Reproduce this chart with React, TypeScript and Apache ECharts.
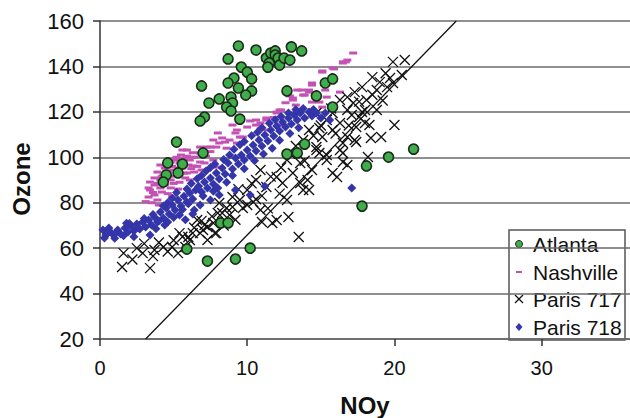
import React, { useEffect, useRef } from "react";
import * as echarts from "echarts";

const xTicks = [0, 10, 20, 30];

const atlanta: number[][] = [
  [9.4, 149.0], [10.6, 147.2], [8.7, 143.3], [9.6, 139.7], [10.0, 137.5], [9.1, 134.9], [8.7, 132.7],
  [10.3, 134.5], [9.4, 130.5], [10.3, 129.2], [9.9, 127.4], [6.9, 131.4], [8.1, 125.7], [7.4, 123.9],
  [8.9, 126.5], [9.0, 123.9], [8.6, 122.1], [8.9, 120.4], [7.1, 117.7], [6.8, 116.0], [9.5, 116.8],
  [5.2, 106.7], [7.0, 101.9], [4.6, 97.5], [5.6, 97.0], [4.5, 92.2], [4.3, 89.1], [5.3, 93.1],
  [11.3, 143.7], [11.6, 145.9], [11.9, 146.8], [11.9, 145.0], [11.5, 141.5], [11.4, 139.7], [12.1, 143.7],
  [12.2, 140.6], [12.5, 143.7], [12.9, 142.8], [13.0, 148.6], [13.7, 146.8], [12.7, 129.2], [14.7, 127.0],
  [15.3, 132.7], [15.8, 134.5], [15.8, 122.1], [13.9, 105.8], [12.7, 101.4], [13.4, 101.9], [21.3, 103.6],
  [19.6, 100.1], [18.1, 96.2], [17.8, 78.5], [8.2, 71.1], [8.7, 71.1], [10.2, 60.0], [7.3, 54.3],
  [9.2, 55.2], [5.9, 59.6],
];

const nashville: number[][] = [
  [17.2, 145.9], [16.7, 142.0], [16.5, 142.0], [16.8, 142.8], [16.5, 141.5], [15.9, 138.9], [15.8, 139.3],
  [15.1, 138.0], [15.1, 137.5], [14.4, 131.8], [14.4, 132.7], [14.2, 129.6], [13.7, 129.6], [13.4, 129.6],
  [15.3, 129.6], [13.1, 126.1], [14.2, 128.7], [13.9, 127.4], [13.8, 127.4], [12.9, 127.0], [14.7, 126.1],
  [14.4, 124.3], [14.9, 124.3], [15.4, 126.5], [16.3, 128.7], [15.1, 122.1], [13.1, 125.2], [12.3, 120.8],
  [12.2, 120.8], [12.0, 119.5], [11.3, 117.3], [10.9, 115.1], [10.6, 116.4], [11.3, 116.4], [12.2, 114.2],
  [12.0, 119.9], [11.4, 112.0], [10.6, 114.2], [10.0, 113.3], [9.5, 108.9], [9.7, 108.9], [9.0, 114.2],
  [9.2, 110.7], [9.3, 106.3], [8.8, 107.6], [8.3, 108.5], [8.0, 110.7], [8.1, 106.3], [7.7, 107.6],
  [7.9, 104.5], [7.5, 104.5], [7.3, 104.5], [8.5, 106.7], [6.8, 104.5], [6.8, 101.9], [5.9, 103.2],
  [5.6, 103.2], [7.9, 95.7], [7.7, 98.8], [7.1, 97.5], [6.9, 94.4], [5.9, 93.1],
  [4.1, 96.6], [4.4, 95.3], [4.8, 97.9], [5.1, 98.8], [5.4, 97.5], [5.8, 99.7], [6.1, 98.8], [6.4, 100.1],
  [3.9, 93.5], [4.3, 92.2], [4.6, 93.5], [5.0, 94.4], [5.3, 95.3], [5.6, 95.3], [6.0, 96.6], [6.3, 96.2],
  [3.7, 90.9], [4.1, 90.0], [4.4, 90.9], [4.8, 90.0], [5.1, 91.7], [5.4, 92.2], [5.8, 90.9], [3.7, 87.8],
  [4.1, 86.5], [3.4, 85.6], [3.7, 83.4], [4.4, 87.8], [4.8, 86.5], [3.9, 81.2], [3.4, 89.1], [4.2, 84.7],
  [6.4, 93.5], [6.1, 90.0], [6.8, 97.9], [3.3, 82.5],
  [3.5, 80.0], [3.6, 84.5], [3.9, 88.5], [4.2, 91.5], [4.5, 94.0], [4.9, 96.0], [5.2, 100.0], [5.5, 101.0],
  [5.9, 100.5], [6.3, 102.0], [4.0, 79.0], [4.6, 84.0], [5.0, 88.5], [5.4, 89.0], [5.7, 93.0], [6.2, 95.0],
  [3.1, 80.5], [3.3, 86.5], [4.9, 83.0], [5.3, 86.0], [6.6, 96.0], [7.2, 100.5], [7.5, 102.5],
  [8.6, 104.0], [9.3, 112.0], [10.2, 116.0], [10.9, 112.5], [11.8, 117.5], [12.6, 124.0], [13.3, 123.0],
];

const paris717: number[][] = [
  [1.6, 57.8], [1.5, 51.7], [3.4, 51.2], [2.9, 57.8], [3.7, 59.2], [4.3, 60.5], [5.3, 57.8], [4.9, 60.5],
  [5.8, 60.5], [6.0, 64.9], [6.3, 66.6], [5.4, 66.6], [6.1, 63.6], [6.8, 66.6], [7.0, 68.0], [7.3, 63.6],
  [7.3, 69.3], [7.7, 71.1], [7.8, 66.6], [8.0, 75.5], [8.6, 77.7], [7.1, 70.2], [7.9, 66.6], [8.3, 75.5],
  [9.0, 78.1], [9.7, 77.7], [10.0, 79.0], [10.4, 80.3], [10.9, 76.8], [11.0, 71.5], [11.7, 71.1], [12.0, 72.4],
  [12.8, 73.7], [12.7, 81.2], [13.5, 64.9], [8.1, 79.9], [9.0, 82.5], [9.5, 81.2], [10.0, 85.6], [10.6, 90.0],
  [10.9, 94.4], [11.3, 86.9], [12.0, 91.3], [12.4, 88.7], [12.7, 98.8], [13.1, 93.1], [13.6, 88.7], [13.6, 97.5],
  [14.2, 85.6], [13.8, 107.6], [14.2, 112.0], [14.7, 119.5], [15.4, 116.4], [15.8, 112.0], [14.7, 103.2],
  [14.9, 101.9], [15.4, 98.8], [16.1, 91.3], [16.5, 106.3], [16.3, 115.1], [15.8, 119.5], [19.9, 142.0],
  [20.7, 142.8], [20.5, 136.2], [19.7, 134.9], [19.0, 133.1], [18.5, 135.3], [17.8, 130.9], [17.3, 128.7],
  [16.8, 126.5], [18.8, 129.6], [19.5, 130.9], [19.9, 132.7], [18.1, 125.2], [17.2, 123.9], [16.3, 125.2],
  [18.0, 120.8], [18.8, 120.8], [16.8, 120.8], [17.6, 117.7], [17.1, 118.6], [17.8, 119.9], [17.4, 113.3],
  [18.3, 114.2], [20.0, 114.2], [19.1, 108.9], [18.4, 108.5], [17.4, 106.7], [16.8, 108.9], [16.3, 103.2],
  [15.4, 101.0], [16.5, 97.9], [15.8, 93.1], [18.2, 100.1], [15.1, 108.9], [14.7, 104.5], [14.4, 94.4],
  [14.1, 90.0], [13.8, 85.6], [14.9, 112.9], [17.3, 107.6], [18.0, 115.1], [16.5, 101.9], [16.8, 96.6],
  [6.6, 72.4], [8.8, 74.6],
  [2.2, 55.0], [2.5, 60.0], [3.0, 62.0], [3.6, 56.5], [4.0, 62.5], [4.6, 58.5], [5.0, 63.5], [5.6, 65.0],
  [6.4, 69.0], [6.9, 72.0], [7.6, 74.0], [8.4, 70.0], [9.2, 72.5], [9.4, 86.0], [10.3, 88.5], [11.0, 83.0],
  [11.6, 91.5], [12.3, 95.5], [12.9, 101.5], [13.3, 105.0], [13.9, 98.5], [14.5, 109.5], [15.0, 114.0],
  [15.7, 121.5], [16.0, 110.5], [16.9, 114.0], [17.6, 124.5], [18.5, 127.5], [19.2, 125.0], [19.4, 137.0],
  [11.4, 77.5], [12.2, 84.0], [10.6, 81.5],
];

const paris718: number[][] = [
  [0.2, 68.0], [0.4, 65.8], [0.6, 68.9], [0.8, 66.6], [1.0, 64.4], [1.2, 68.0], [1.4, 66.2], [1.7, 68.9],
  [1.9, 67.1], [2.1, 69.7], [2.3, 67.5], [2.5, 70.6], [2.7, 68.4], [2.9, 71.5], [3.1, 69.3], [3.3, 72.4],
  [3.5, 70.2], [3.7, 73.7], [3.9, 71.5], [4.1, 75.9], [4.3, 73.3], [4.5, 77.7], [4.7, 75.0], [4.9, 79.0],
  [5.1, 76.8], [5.3, 81.2], [5.5, 78.5], [5.7, 82.9], [5.9, 80.3], [6.1, 84.3], [6.3, 81.6], [6.5, 85.6],
  [6.7, 87.3], [6.9, 84.7], [7.1, 89.1], [7.3, 86.5], [7.5, 90.9], [7.7, 88.2], [7.9, 93.1], [8.1, 90.4],
  [8.3, 95.3], [8.5, 92.6], [8.7, 97.5], [9.0, 94.8], [9.2, 99.7], [9.4, 97.0], [9.6, 101.0], [9.8, 98.8],
  [10.0, 103.2], [10.2, 100.6], [10.4, 105.4], [10.6, 102.8], [10.8, 107.6], [11.0, 105.0], [11.2, 109.8],
  [11.4, 107.2], [11.6, 112.0], [11.8, 109.4], [12.0, 113.8], [12.2, 111.6], [12.4, 115.5], [12.6, 113.3],
  [12.8, 117.3], [13.0, 114.6], [13.2, 118.6], [13.4, 116.4], [13.6, 119.5], [13.9, 117.3], [14.2, 119.9],
  [14.4, 118.2], [14.7, 119.5], [15.0, 117.3], [15.3, 119.5], [7.5, 81.2], [8.1, 83.4], [9.2, 85.6],
  [10.2, 83.4], [11.2, 87.3], [5.4, 74.6], [6.4, 76.8], [6.8, 79.0], [3.4, 65.8], [4.4, 70.2], [17.1, 86.5],
  [15.6, 116.4],
  [0.5, 66.5], [1.1, 66.8], [1.6, 65.5], [2.0, 70.8], [2.6, 69.0], [3.0, 73.0], [3.6, 74.8], [4.0, 72.0],
  [4.3, 78.5], [4.6, 80.0], [4.9, 82.0], [5.2, 84.5], [5.0, 73.5], [5.6, 77.0], [5.9, 86.0], [6.2, 88.5],
  [6.0, 79.5], [6.6, 90.5], [6.9, 92.0], [7.2, 94.0], [7.5, 95.5], [7.0, 83.0], [7.8, 97.0], [8.0, 86.5],
  [8.4, 99.0], [8.8, 101.0], [9.1, 103.5], [9.5, 105.5], [9.8, 107.0], [10.3, 109.5], [10.7, 111.0],
  [11.0, 113.0], [11.5, 115.0], [11.9, 116.5], [12.3, 118.0], [12.8, 119.5], [13.3, 121.0], [13.8, 121.5],
  [14.5, 121.0], [9.0, 92.0], [9.8, 95.0], [10.5, 98.5], [11.1, 101.5], [11.7, 104.0], [12.2, 107.5],
  [12.9, 110.5], [13.5, 113.0], [8.6, 89.0], [7.7, 85.0], [6.3, 75.0], [5.8, 72.5], [4.6, 71.5], [3.8, 68.5],
  [2.3, 65.0], [1.8, 71.0], [0.3, 64.5],
];

const ratioLine: number[][] = [
  [3.1, 20],
  [24.2, 160],
];

const legendNames = ["Atlanta", "Nashville", "Paris 717", "Paris 718"];

const FONT = "'Liberation Sans', Arial, sans-serif";

export default function App() {
  const ref = useRef<HTMLDivElement>(null);
  useEffect(() => {
    if (!ref.current) return;
    const chart = echarts.init(ref.current, undefined, { renderer: "svg" });
    const rowY = [244, 272, 299, 327];
    const lx = 519;
    const option: any = {
      animation: false,
      backgroundColor: "#fff",
      grid: { left: 100, right: 0, top: 21, bottom: 79 },
      xAxis: {
        type: "value",
        min: 0,
        max: 36,
        interval: 10,
        axisLine: { show: true, onZero: false, lineStyle: { color: "#666", width: 1.5 } },
        axisTick: { show: true, length: 7, customValues: xTicks, lineStyle: { color: "#333", width: 1.5 } },
        axisLabel: {
          customValues: xTicks,
          margin: 19,
          fontSize: 20,
          fontFamily: FONT,
          color: "#111",
        },
        splitLine: { show: false },
      },
      yAxis: {
        type: "value",
        min: 20,
        max: 160,
        interval: 20,
        axisLine: { show: true, onZero: false, lineStyle: { color: "#333", width: 1.5 } },
        axisTick: { show: true, length: 7, lineStyle: { color: "#333", width: 1.5 } },
        axisLabel: { margin: 16, fontSize: 22, fontFamily: FONT, color: "#111" },
        splitLine: { show: true, lineStyle: { color: "#6a6a6a", width: 1.5 } },
      },
      series: [
        {
          type: "line",
          data: ratioLine,
          symbol: "none",
          lineStyle: { color: "#111", width: 1.3 },
          silent: true,
          z: 1,
        },
        {
          name: "Nashville",
          type: "scatter",
          data: nashville,
          symbol: "rect",
          symbolSize: [8, 3],
          itemStyle: { color: "#c452b4", opacity: 1 },
          z: 3,
        },
        {
          name: "Paris 717",
          type: "scatter",
          data: paris717,
          symbol: "path://M0,0L10,10M10,0L0,10",
          symbolSize: 10,
          itemStyle: { color: "rgba(0,0,0,0)", borderColor: "#111", borderWidth: 1.3, opacity: 1 },
          z: 4,
        },
        {
          name: "Paris 718",
          type: "scatter",
          data: paris718,
          symbol: "diamond",
          symbolSize: 9,
          itemStyle: { color: "#3535aa", opacity: 1 },
          z: 5,
        },
        {
          name: "Atlanta",
          type: "scatter",
          data: atlanta,
          symbol: "circle",
          symbolSize: 10,
          itemStyle: { color: "#3fae4a", borderColor: "#1c2a1c", borderWidth: 1.6, opacity: 1 },
          z: 6,
        },
      ],
      graphic: [
        {
          type: "text",
          x: 21,
          y: 179,
          rotation: Math.PI / 2,
          style: {
            text: "Ozone",
            font: `bold 24px ${FONT}`,
            fill: "#111",
            align: "center",
            verticalAlign: "middle",
          },
        },
        {
          type: "text",
          x: 365,
          y: 405,
          style: {
            text: "NOy",
            font: `bold 24px ${FONT}`,
            fill: "#111",
            align: "center",
            verticalAlign: "middle",
          },
        },
        {
          type: "group",
          z: 100,
          children: [
            {
              type: "rect",
              shape: { x: 509, y: 230, width: 116, height: 110 },
              style: { fill: "#fff", stroke: "#555", lineWidth: 1.5 },
            },
            {
              type: "circle",
              shape: { cx: lx, cy: rowY[0], r: 3.5 },
              style: { fill: "#3fae4a", stroke: "#1c2a1c", lineWidth: 1 },
            },
            {
              type: "rect",
              shape: { x: lx - 3, y: rowY[1] - 1, width: 6, height: 2 },
              style: { fill: "#c452b4" },
            },
            {
              type: "line",
              shape: { x1: lx - 4, y1: rowY[2] - 4, x2: lx + 4, y2: rowY[2] + 4 },
              style: { stroke: "#111", lineWidth: 1.3 },
            },
            {
              type: "line",
              shape: { x1: lx + 4, y1: rowY[2] - 4, x2: lx - 4, y2: rowY[2] + 4 },
              style: { stroke: "#111", lineWidth: 1.3 },
            },
            {
              type: "polygon",
              shape: {
                points: [
                  [lx, rowY[3] - 4],
                  [lx + 3.5, rowY[3]],
                  [lx, rowY[3] + 4],
                  [lx - 3.5, rowY[3]],
                ],
              },
              style: { fill: "#3535aa" },
            },
            ...legendNames.map((t, i) => ({
              type: "text",
              x: 533,
              y: rowY[i],
              style: {
                text: t,
                font: `21px ${FONT}`,
                fill: "#111",
                align: "left",
                verticalAlign: "middle",
              },
            })),
          ],
        },
      ],
    };
    chart.setOption(option);
    return () => chart.dispose();
  }, []);
  return (
    <div
      ref={ref}
      style={{ position: "absolute", left: 0, top: 0, width: 630, height: 418 }}
    />
  );
}
